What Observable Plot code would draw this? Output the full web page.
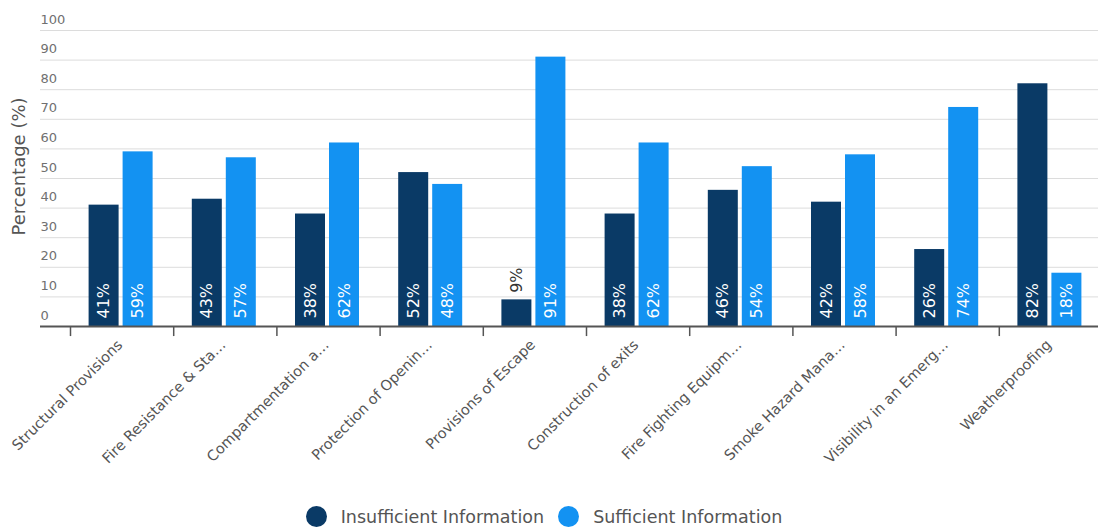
<!DOCTYPE html>
<html>
<head>
<meta charset="utf-8">
<script src="https://cdn.jsdelivr.net/npm/d3@7"></script>
<script src="https://cdn.jsdelivr.net/npm/@observablehq/plot@0.6"></script>
<style>
  html, body { margin: 0; padding: 0; background: #fff; }
  body { width: 1098px; font-family: "DejaVu Sans", sans-serif; }
  #chart svg { display: block; }
  .legend { display: flex; justify-content: center; align-items: center; gap: 14px;
            margin-top: 1px; margin-left: -10px; font-size: 17.5px; color: #555; }
  .legend span.item { display: inline-flex; align-items: center; gap: 14px; }
  .legend span.dot { width: 21px; height: 21px; border-radius: 50%; display: inline-block; }
</style>
</head>
<body>
<div id="chart"></div>
<div class="legend" id="legend"></div>
<script>
// Share of submissions per topic with insufficient vs sufficient information
const categories = [
  "Structural Provisions",
  "Fire Resistance & Sta…",
  "Compartmentation a…",
  "Protection of Openin…",
  "Provisions of Escape",
  "Construction of exits",
  "Fire Fighting Equipm…",
  "Smoke Hazard Mana…",
  "Visibility in an Emerg…",
  "Weatherproofing"
];
const insufficient = [41, 43, 38, 52, 9, 38, 46, 42, 26, 82];
const sufficient   = [59, 57, 62, 48, 91, 62, 54, 58, 74, 18];
const seriesNames = ["Insufficient Information", "Sufficient Information"];
const seriesColors = ["#0a3a66", "#1392f2"];
const yTicks = [0, 10, 20, 30, 40, 50, 60, 70, 80, 90, 100];

const rows = categories.flatMap((c, i) => [
  {cat: c, series: seriesNames[0], value: insufficient[i]},
  {cat: c, series: seriesNames[1], value: sufficient[i]}
]);
const darkRows = rows.filter(d => d.series === seriesNames[0]);
const lightRows = rows.filter(d => d.series === seriesNames[1]);

const W = 1098, H = 505;
const left = 40, bandStart = 70, bandEnd = 1102;
const step = (bandEnd - bandStart) / categories.length;
const barW = 30, gap = 4;
const half = step / 2;
// insets placing the two bars side by side around each band centre
const darkInset = {insetLeft: half - barW - gap / 2 - 1, insetRight: half + gap / 2 + 1};
const lightInset = {insetLeft: half + gap / 2 - 1, insetRight: half - barW - gap / 2 + 1};
const offset = barW / 2 + gap / 2;
const fits = d => d.value >= 15;
const font = "DejaVu Sans, sans-serif";

const chart = Plot.plot({
  width: W,
  height: H,
  marginLeft: left,
  marginRight: 0,
  marginTop: 30,
  marginBottom: H - 326,
  style: {fontFamily: font, background: "#fff"},
  x: {domain: categories, range: [bandStart, bandEnd], padding: 0, round: false},
  y: {domain: [0, 100], axis: null},
  color: {domain: seriesNames, range: seriesColors},
  marks: [
    Plot.ruleY(yTicks, {stroke: "#dcdcdc", strokeWidth: 1}),
    Plot.text(yTicks, {y: d => d, frameAnchor: "left", textAnchor: "start", dy: -11,
      text: d => String(d), fill: "#707070", fontSize: 13}),
    Plot.text(["Percentage (%)"], {frameAnchor: "left", textAnchor: "middle", dx: -21, dy: -12,
      rotate: -90, fill: "#555", fontSize: 18}),
    Plot.barY(darkRows, {x: "cat", y: "value", fill: "series", ...darkInset}),
    Plot.barY(lightRows, {x: "cat", y: "value", fill: "series", ...lightInset}),
    // value labels inside the bars
    Plot.text(darkRows.filter(fits), {x: "cat", y: 0, dx: -offset - 1, dy: -8, rotate: -90,
      textAnchor: "start", text: d => d.value + "%", fill: "#fff", fontSize: 16}),
    Plot.text(lightRows.filter(fits), {x: "cat", y: 0, dx: offset - 1, dy: -8, rotate: -90,
      textAnchor: "start", text: d => d.value + "%", fill: "#fff", fontSize: 16}),
    // short bars get their label above
    Plot.text(darkRows.filter(d => !fits(d)), {x: "cat", y: "value", dx: -offset - 1, dy: -7, rotate: -90,
      textAnchor: "start", text: d => d.value + "%", fill: "#333", fontSize: 16}),
    Plot.text(lightRows.filter(d => !fits(d)), {x: "cat", y: "value", dx: offset - 1, dy: -7, rotate: -90,
      textAnchor: "start", text: d => d.value + "%", fill: "#333", fontSize: 16}),
    // baseline and tick marks between categories
    Plot.ruleY([0], {stroke: "#555", strokeWidth: 2}),
    Plot.ruleX(categories, {x: d => d, dx: -half, y1: 0, y2: -3.4, stroke: "#555", strokeWidth: 1.5}),
    Plot.axisX({tickSize: 0, tickPadding: 12, tickRotate: -45, fontSize: 14.5, fill: "#555",
      label: null, stroke: "none", dx: -2, dy: 4})
  ]
});
document.getElementById("chart").append(chart);

const legend = document.getElementById("legend");
seriesNames.forEach((name, i) => {
  const item = document.createElement("span");
  item.className = "item";
  const dot = document.createElement("span");
  dot.className = "dot";
  dot.style.background = seriesColors[i];
  const label = document.createElement("span");
  label.textContent = name;
  item.append(dot, label);
  legend.append(item);
});
</script>
</body>
</html>
